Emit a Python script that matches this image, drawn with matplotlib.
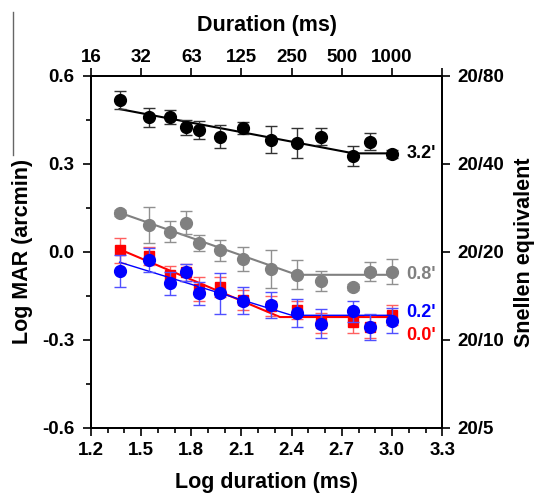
import matplotlib
matplotlib.use("Agg")
import matplotlib.pyplot as plt
from matplotlib.lines import Line2D
from matplotlib.ticker import MultipleLocator

plt.rcParams['font.family'] = ['Liberation Sans', 'DejaVu Sans']
plt.rcParams['font.weight'] = 'bold'

# log durations (frames at 85 Hz)
log_dur = [1.371, 1.548, 1.672, 1.769, 1.849, 1.973, 2.111, 2.274, 2.431, 2.575, 2.769, 2.870, 3.0]

# Log MAR per blur level, with error bars
mar_32 = [0.518, 0.459, 0.459, 0.425, 0.416, 0.393, 0.423, 0.382, 0.371, 0.393, 0.327, 0.376, 0.334]
err_32 = [0.032, 0.032, 0.024, 0.026, 0.030, 0.040, 0.020, 0.046, 0.050, 0.030, 0.035, 0.030, 0.015]
mar_08 = [0.134, 0.092, 0.069, 0.100, 0.030, 0.005, -0.024, -0.057, -0.078, -0.099, -0.120, -0.067, -0.067]
err_08 = [0.010, 0.060, 0.036, 0.040, 0.028, 0.036, 0.042, 0.065, 0.050, 0.035, 0.010, 0.032, 0.043]
mar_00 = [0.005, -0.014, -0.078, -0.070, -0.127, -0.120, -0.164, -0.185, -0.197, -0.243, -0.238, -0.255, -0.215]
err_00 = [0.042, 0.030, 0.030, 0.030, 0.040, 0.035, 0.035, 0.035, 0.030, 0.035, 0.040, 0.040, 0.035]
mar_02 = [-0.065, -0.027, -0.107, -0.070, -0.141, -0.141, -0.166, -0.181, -0.209, -0.245, -0.203, -0.255, -0.234]
err_02 = [0.055, 0.040, 0.040, 0.030, 0.040, 0.070, 0.045, 0.045, 0.047, 0.050, 0.035, 0.045, 0.043]

# bilinear fits: start, breakpoint, end
fit_x_32 = [1.371, 2.77, 3.0]
fit_y_32 = [0.487, 0.336, 0.336]
fit_x_08 = [1.371, 2.431, 3.0]
fit_y_08 = [0.134, -0.078, -0.078]
fit_x_00 = [1.371, 2.33, 3.0]
fit_y_00 = [0.009, -0.222, -0.222]
fit_x_02 = [1.371, 2.40, 3.0]
fit_y_02 = [-0.035, -0.216, -0.216]

curve_labels = ["3.2'", "0.8'", "0.2'", "0.0'"]
label_y = [0.337, -0.078, -0.208, -0.285]

top_ticks = [1.2, 1.5, 1.8, 2.1, 2.4, 2.7, 3.0, 3.3]
top_labels = ['16', '32', '63', '125', '250', '500', '1000', '']
snellen_ticks = [0.6, 0.3, 0.0, -0.3, -0.6]
snellen_labels = ['20/80', '20/40', '20/20', '20/10', '20/5']

TICK_FS = 13.5
LABEL_FS = 15.5

fig = plt.figure(figsize=(5.38, 4.93), dpi=100)
ax = fig.add_axes([0.169, 0.132, 0.653, 0.714])

# gray
ax.plot(fit_x_08, fit_y_08, color='#808080', lw=1.5, zorder=2)
ax.errorbar(log_dur, mar_08, yerr=err_08, fmt='o', color='#808080', ms=8.5,
            ecolor='#909090', elinewidth=1, capsize=4, zorder=3)
# black
ax.plot(fit_x_32, fit_y_32, color='black', lw=1.5, zorder=2)
ax.errorbar(log_dur, mar_32, yerr=err_32, fmt='o', color='black', ms=8.5,
            ecolor='#333333', elinewidth=1, capsize=4, zorder=3)
# red
ax.plot(fit_x_00, fit_y_00, color='red', lw=1.5, zorder=4)
ax.errorbar(log_dur, mar_00, yerr=err_00, fmt='s', color='red', ms=7.5,
            ecolor='#ff6060', elinewidth=1, capsize=4, zorder=5)
# blue
ax.plot(fit_x_02, fit_y_02, color='blue', lw=1, zorder=6)
ax.errorbar(log_dur, mar_02, yerr=err_02, fmt='o', color='blue', ms=8.5,
            ecolor='#5050ff', elinewidth=1, capsize=4, zorder=7)

for txt, yv, c in zip(curve_labels, label_y, ['black', '#808080', 'blue', 'red']):
    ax.text(3.085, yv, txt, color=c, fontsize=13, fontweight='bold',
            ha='left', va='center')

ax.set_xlim(1.2, 3.3)
ax.set_ylim(-0.6, 0.6)
ax.set_xticks([1.2, 1.5, 1.8, 2.1, 2.4, 2.7, 3.0, 3.3])
ax.set_xticklabels(['1.2', '1.5', '1.8', '2.1', '2.4', '2.7', '3.0', '3.3'])
ax.xaxis.set_minor_locator(MultipleLocator(0.1))
ax.set_yticks([-0.6, -0.3, 0.0, 0.3, 0.6])
ax.set_yticklabels(['-0.6', '-0.3', '0.0', '0.3', '0.6'])
ax.yaxis.set_minor_locator(MultipleLocator(0.15))
ax.tick_params(which='major', direction='out', length=6, width=1.2, labelsize=TICK_FS)
ax.tick_params(axis='x', which='major', pad=4)
ax.tick_params(axis='y', which='major', pad=6)
ax.tick_params(which='minor', direction='out', length=3.5, width=1.2)
ax.set_xlabel('Log duration (ms)', fontsize=LABEL_FS, fontweight='bold')
ax.set_ylabel('Log MAR (arcmin)', fontsize=LABEL_FS, fontweight='bold')
ax.xaxis.set_label_coords(0.5, -0.125)
ax.yaxis.set_label_coords(-0.165, 0.5)
for s in ax.spines.values():
    s.set_linewidth(1.2)

axt = ax.twiny()
axt.set_xlim(ax.get_xlim())
axt.set_xticks(top_ticks)
axt.set_xticklabels(top_labels)
axt.tick_params(direction='out', length=6, width=1.2, labelsize=TICK_FS, pad=1.5)
axt.set_xlabel('Duration (ms)', fontsize=LABEL_FS, fontweight='bold')
axt.xaxis.set_label_coords(0.5, 1.128)

axr = ax.twinx()
axr.set_ylim(ax.get_ylim())
axr.set_yticks(snellen_ticks)
axr.set_yticklabels(snellen_labels)
axr.tick_params(direction='out', length=6, width=1.2, labelsize=TICK_FS, pad=5)
axr.set_ylabel('Snellen equivalent', fontsize=LABEL_FS, fontweight='bold')
axr.yaxis.set_label_coords(1.203, 0.5)

for a in (axt, axr):
    for s in a.spines.values():
        s.set_linewidth(1.2)

# stray crop line at top left
fig.add_artist(Line2D([0.024, 0.024], [1 - 12 / 493, 1 - 155 / 493],
                      transform=fig.transFigure, color='#666666', lw=1))

fig.savefig('out.png', dpi=100)
